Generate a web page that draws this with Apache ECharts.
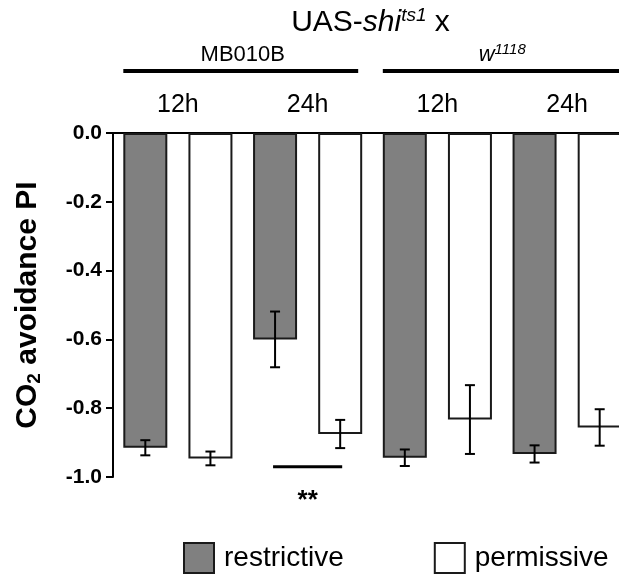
<!DOCTYPE html>
<html lang="en">
<head>
<meta charset="UTF-8">
<title>CO2 avoidance PI</title>
<script src="https://cdn.jsdelivr.net/npm/echarts@6/dist/echarts.min.js"></script>
<style>
    html, body { margin: 0; padding: 0; background: #fff; }
    #main { width: 619px; height: 575px; }
</style>
</head>
<body>
<div id="main"></div>
<script type="text/javascript">
    // data
    var categories = ['MB010B 12h', 'MB010B 24h', 'w1118 12h', 'w1118 24h'];
    var hourLabels = ['12h', '24h', '12h', '24h'];
    var restrictiveMean = [-0.915, -0.600, -0.944, -0.933];
    var restrictiveSem  = [0.022, 0.081, 0.024, 0.025];
    var permissiveMean  = [-0.946, -0.875, -0.833, -0.856];
    var permissiveSem   = [0.020, 0.041, 0.100, 0.053];
    var sigValue = -0.97;     // significance bar level
    var starValue = -1.07;    // "**" level

    var FONT = '"Liberation Sans", Arial, Helvetica, sans-serif';
    var BAR_W = 44;
    var BAR_GAP = 0.48;
    var OFFSET = (BAR_W + BAR_W * BAR_GAP) / 2;

    function errData(mean, sem) {
        var out = [];
        for (var i = 0; i < mean.length; i++) {
            out.push([i, mean[i], sem[i]]);
        }
        return out;
    }

    function errorRender(offset) {
        return function (params, api) {
            var i = api.value(0), m = api.value(1), e = api.value(2);
            var top = api.coord([i, m + e]);
            var bot = api.coord([i, m - e]);
            var x = top[0] + offset;
            var cap = 5;
            var st = { stroke: '#000', lineWidth: 2 };
            return {
                type: 'group',
                children: [
                    { type: 'line', shape: { x1: x, y1: top[1], x2: x, y2: bot[1] }, style: st },
                    { type: 'line', shape: { x1: x - cap, y1: top[1], x2: x + cap, y2: top[1] }, style: st },
                    { type: 'line', shape: { x1: x - cap, y1: bot[1], x2: x + cap, y2: bot[1] }, style: st }
                ]
            };
        };
    }

    var chart = echarts.init(document.getElementById('main'), null, { renderer: 'canvas' });

    chart.setOption({
        animation: false,
        textStyle: { fontFamily: FONT, color: '#000' },
        grid: { left: 113, top: 133, width: 519, height: 344, outerBoundsMode: 'none', containLabel: false },
        legend: {
            data: ['restrictive', 'permissive'],
            left: 183,
            top: 542,
            padding: 0,
            itemWidth: 30,
            itemHeight: 30,
            itemGap: 90,
            icon: 'rect',
            textStyle: { fontSize: 28, fontFamily: FONT, color: '#000', padding: [0, 0, 0, 5] }
        },
        xAxis: {
            type: 'category',
            position: 'top',
            data: categories,
            axisLine: { lineStyle: { color: '#000', width: 2 } },
            axisTick: { show: false },
            axisLabel: {
                margin: 15,
                fontSize: 25,
                fontFamily: FONT,
                color: '#000',
                formatter: function (v, i) { return hourLabels[i]; }
            },
            splitLine: { show: false }
        },
        yAxis: {
            type: 'value',
            min: -1,
            max: 0,
            interval: 0.2,
            name: '{a|CO}{s|2}{a| avoidance PI}',
            nameLocation: 'middle',
            nameRotate: 90,
            nameGap: 69,
            nameTextStyle: {
                rich: {
                    a: { fontSize: 30, fontWeight: 'bold', fontFamily: FONT, color: '#000', lineHeight: 32 },
                    s: { fontSize: 19, fontWeight: 'bold', fontFamily: FONT, color: '#000', lineHeight: 19, verticalAlign: 'bottom' }
                }
            },
            axisLine: { show: true, lineStyle: { color: '#000', width: 2 } },
            axisTick: { show: true, length: 7, lineStyle: { color: '#000', width: 2 } },
            axisLabel: {
                margin: 11,
                fontSize: 21,
                fontWeight: 'bold',
                fontFamily: FONT,
                color: '#000',
                formatter: function (v) { return v.toFixed(1); }
            },
            splitLine: { show: false }
        },
        series: [
            {
                name: 'restrictive',
                type: 'bar',
                data: restrictiveMean,
                barWidth: BAR_W,
                barGap: (BAR_GAP * 100) + '%',
                itemStyle: { color: '#808080', borderColor: '#1a1a1a', borderWidth: 2 }
            },
            {
                name: 'permissive',
                type: 'bar',
                data: permissiveMean,
                barWidth: BAR_W,
                barGap: (BAR_GAP * 100) + '%',
                itemStyle: { color: '#ffffff', borderColor: '#1a1a1a', borderWidth: 2 }
            },
            {
                type: 'custom',
                renderItem: errorRender(-OFFSET),
                data: errData(restrictiveMean, restrictiveSem),
                encode: { x: 0, y: 1 },
                z: 10,
                silent: true
            },
            {
                type: 'custom',
                renderItem: errorRender(OFFSET),
                data: errData(permissiveMean, permissiveSem),
                encode: { x: 0, y: 1 },
                z: 10,
                silent: true
            }
        ]
    });

    // annotations placed from the axis scale
    var p0 = chart.convertToPixel({ seriesIndex: 0 }, [0, 0]);
    var p1 = chart.convertToPixel({ seriesIndex: 0 }, [1, sigValue]);
    var p2 = chart.convertToPixel({ seriesIndex: 0 }, [2, 0]);
    var p3 = chart.convertToPixel({ seriesIndex: 0 }, [3, 0]);
    var pStar = chart.convertToPixel({ seriesIndex: 0 }, [1, starValue]);
    var edge = OFFSET + BAR_W / 2;

    chart.setOption({
        graphic: [
            {
                type: 'text',
                x: (p1[0] + p2[0]) / 2 - 2,
                y: 23,
                style: {
                    text: '{a|UAS-}{i|shi}{t|ts1}{a| x}',
                    align: 'center',
                    verticalAlign: 'middle',
                    rich: {
                        a: { fontSize: 30, fontFamily: FONT, fill: '#000', lineHeight: 34 },
                        i: { fontSize: 30, fontFamily: FONT, fontStyle: 'italic', fill: '#000', lineHeight: 34 },
                        t: { fontSize: 19, fontFamily: FONT, fontStyle: 'italic', fill: '#000', lineHeight: 22, verticalAlign: 'top' }
                    }
                }
            },
            {
                type: 'text',
                x: (p0[0] + p1[0]) / 2,
                y: 55,
                style: { text: 'MB010B', fontSize: 22, fontFamily: FONT, fill: '#000', align: 'center', verticalAlign: 'middle' }
            },
            {
                type: 'text',
                x: (p2[0] + p3[0]) / 2,
                y: 55,
                style: {
                    text: '{i|w}{t|1118}',
                    align: 'center',
                    verticalAlign: 'middle',
                    rich: {
                        i: { fontSize: 22, fontFamily: FONT, fontStyle: 'italic', fill: '#000', lineHeight: 26 },
                        t: { fontSize: 15, fontFamily: FONT, fontStyle: 'italic', fill: '#000', lineHeight: 15, verticalAlign: 'top' }
                    }
                }
            },
            {
                type: 'line',
                shape: { x1: p0[0] - edge, y1: 71, x2: p1[0] + edge - 4, y2: 71 },
                style: { stroke: '#000', lineWidth: 4 }
            },
            {
                type: 'line',
                shape: { x1: p2[0] - edge, y1: 71, x2: p3[0] + edge, y2: 71 },
                style: { stroke: '#000', lineWidth: 4 }
            },
            {
                type: 'line',
                shape: { x1: p1[0] - OFFSET - 2, y1: p1[1], x2: p1[0] + OFFSET + 2, y2: p1[1] },
                style: { stroke: '#000', lineWidth: 3 }
            },
            {
                type: 'text',
                x: pStar[0],
                y: pStar[1],
                style: { text: '**', fontSize: 26, fontWeight: 'bold', fontFamily: FONT, fill: '#000', align: 'center', verticalAlign: 'middle' }
            }
        ]
    });
</script>
</body>
</html>
